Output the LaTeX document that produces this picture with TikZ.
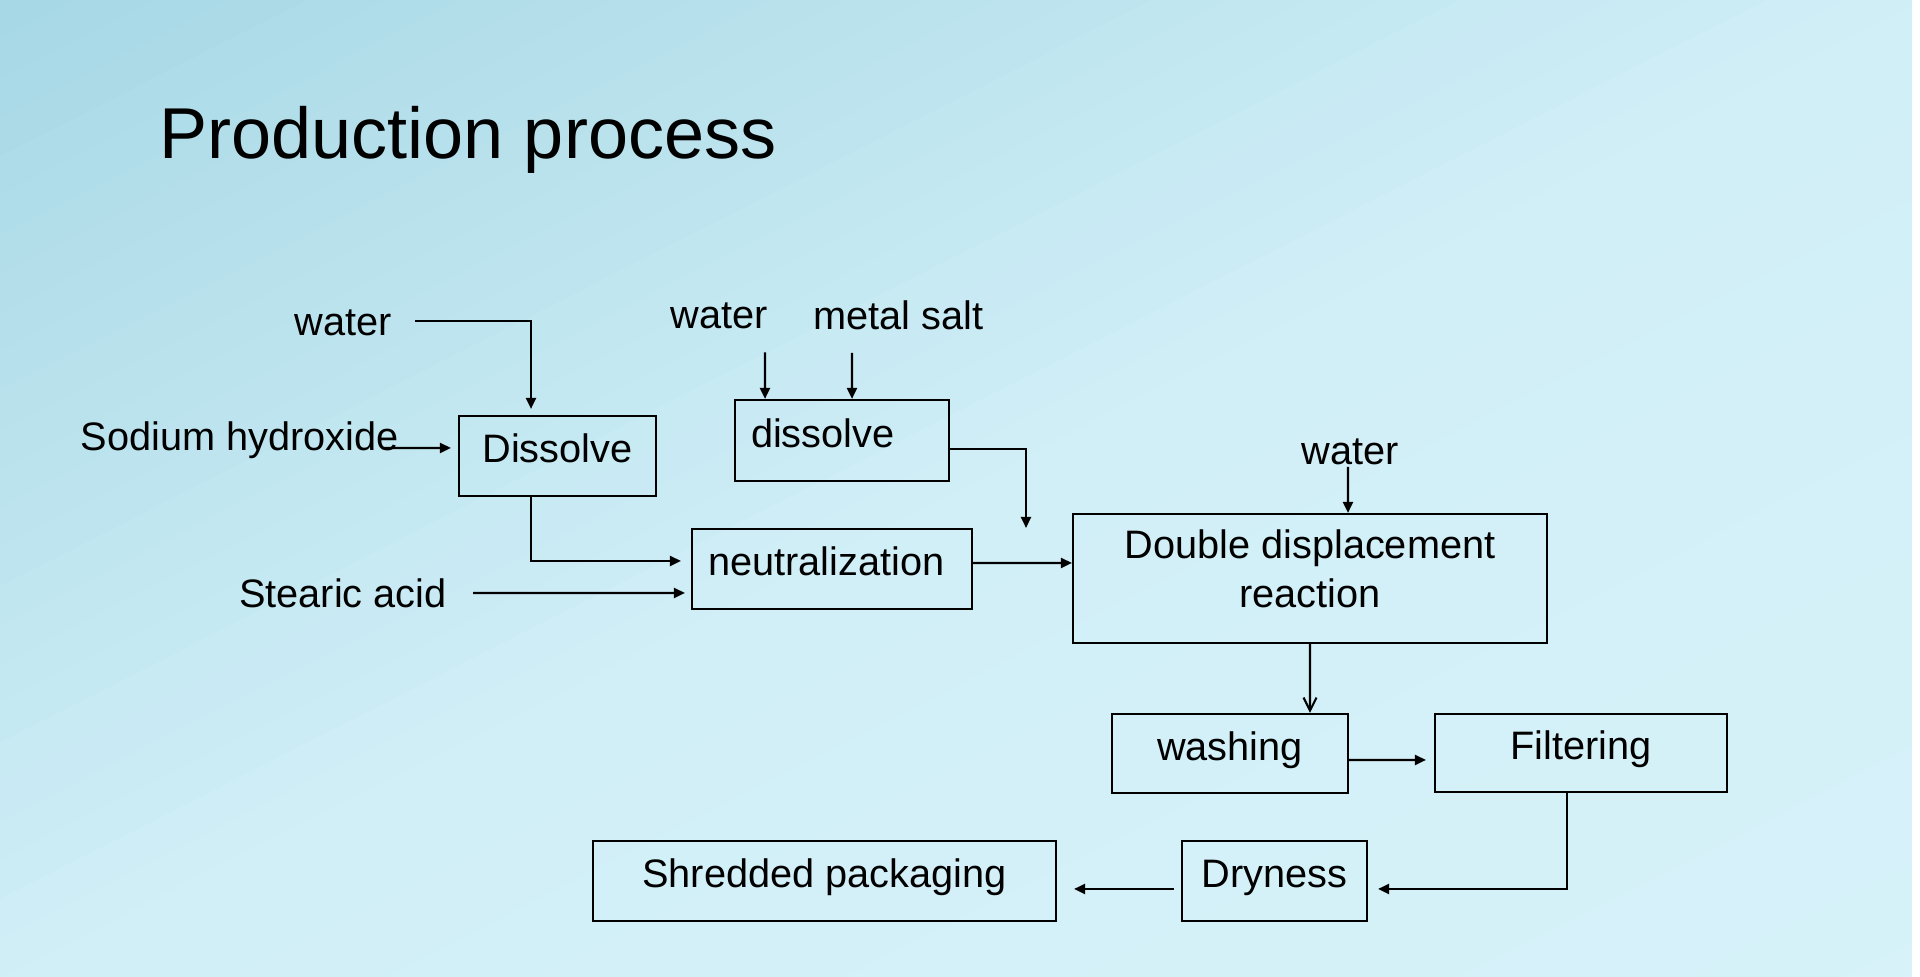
\documentclass[tikz,border=0pt]{standalone}
\usepackage{fontspec}
\setmainfont{Liberation Sans}
\usetikzlibrary{arrows.meta}
\definecolor{bgtop}{HTML}{A7D8E5}
\definecolor{bgmid}{HTML}{D1EFF7}
\definecolor{bgbot}{HTML}{D7F2F9}
\tikzset{
  procbox/.style={draw, line width=0.6pt, inner ysep=1pt, text height=9.8pt, text depth=6pt},
  flow/.style={line width=0.6pt, -{Triangle[length=1.1mm,width=1mm]}},
  openflow/.style={line width=0.6pt, -{Straight Barb[length=1.3mm,width=1.3mm]}}
}
\begin{document}
\begin{tikzpicture}[scale=1, every node/.style={font=\fontsize{11.3}{13.9}\selectfont}]
  \useasboundingbox (0,0) rectangle (19.2,9.77);
  \begin{scope}
    \clip (0,0) rectangle (19.2,9.77);
    \begin{scope}[shift={(9.6,4.885)}, rotate=-63.03]
      \fill[bgtop] (-9,-12) rectangle (9,12);
      \foreach \k in {0,...,24} {
        \pgfmathsetmacro\p{4*\k}
        \fill[bgmid!\p!bgtop] (-8.71+0.3484*\k,-12) rectangle (9,12);
      }
      \foreach \k in {25,...,49} {
        \pgfmathsetmacro\p{4*(\k-25)}
        \fill[bgbot!\p!bgmid] (-8.71+0.3484*\k,-12) rectangle (9,12);
      }
    \end{scope}
    \fill[white] (19.12,0) rectangle (19.2,9.77);
  \end{scope}
  \node[font=\fontsize{20.5}{24}\selectfont] (title) at (4.68,8.37) {Production process};
  \node[procbox, minimum width=1.97cm, minimum height=0.80cm] (dis1) at (5.575,5.21) {Dissolve};
  \node[procbox, minimum width=2.14cm, minimum height=0.81cm, text width=1.82cm, align=left] (dis2) at (8.42,5.365) {dissolve};
  \node[procbox, minimum width=2.80cm, minimum height=0.80cm, text width=2.48cm, align=left] (neut) at (8.32,4.08) {neutralization};
  \node[procbox, minimum width=4.74cm, minimum height=1.29cm, align=center, text height=24.5pt, text depth=8pt] (ddr) at (13.10,3.985) {Double displacement\\reaction};
  \node[procbox, minimum width=2.36cm, minimum height=0.79cm] (wash) at (12.30,2.235) {washing};
  \node[procbox, minimum width=2.92cm, minimum height=0.78cm] (filt) at (15.81,2.24) {Filtering};
  \node[procbox, minimum width=1.85cm, minimum height=0.80cm] (dry) at (12.745,0.96) {Dryness};
  \node[procbox, minimum width=4.63cm, minimum height=0.80cm] (shred) at (8.245,0.96) {Shredded packaging};
  \node (water1) at (3.435,6.545) {water};
  \node (naoh) at (2.395,5.365) {Sodium hydroxide};
  \node (stearic) at (3.43,3.84) {Stearic acid};
  \node (water2) at (7.195,6.61) {water};
  \node (salt) at (8.985,6.62) {metal salt};
  \node (water3) at (13.50,5.255) {water};
  \coordinate (mixin) at (10.26,4.49);
  \draw[flow] ([xshift=1.05mm,yshift=0.15mm]water1.east) -| ([xshift=-2.65mm,yshift=0.6mm]dis1.north);
  \draw[flow] ([xshift=-2.9mm,yshift=-0.75mm]naoh.east) -- ([xshift=-0.7mm,yshift=0.8mm]dis1.west);
  \draw[flow] ([xshift=-2.65mm]dis1.south) |- ([xshift=-1mm,yshift=0.8mm]neut.west);
  \draw[flow] ([xshift=1.4mm]stearic.east) -- ([xshift=-0.6mm,yshift=-2.4mm]neut.west);
  \draw[flow] ([xshift=4.55mm,yshift=-1.1mm]water2.south) -- ([xshift=-7.7mm]dis2.north);
  \draw[flow] ([xshift=-4.65mm,yshift=-1.1mm]salt.south) -- ([xshift=1mm]dis2.north);
  \draw[flow] ([yshift=-0.85mm]dis2.east) -| (mixin);
  \draw[flow] ([yshift=0.6mm]neut.east) -- ([yshift=1.55mm]ddr.west);
  \draw[flow] ([xshift=-0.2mm,yshift=1mm]water3.south) -- ([xshift=3.8mm]ddr.north);
  \draw[openflow] (ddr.south) -- ([xshift=8mm]wash.north);
  \draw[flow] ([yshift=-0.65mm]wash.east) -- ([xshift=-0.8mm,yshift=-0.7mm]filt.west);
  \draw[flow] ([xshift=-1.4mm]filt.south) |- ([xshift=1mm,yshift=-0.8mm]dry.east);
  \draw[flow] ([xshift=-0.7mm,yshift=-0.8mm]dry.west) -- ([xshift=1.7mm,yshift=-0.8mm]shred.east);
\end{tikzpicture}
\end{document}
